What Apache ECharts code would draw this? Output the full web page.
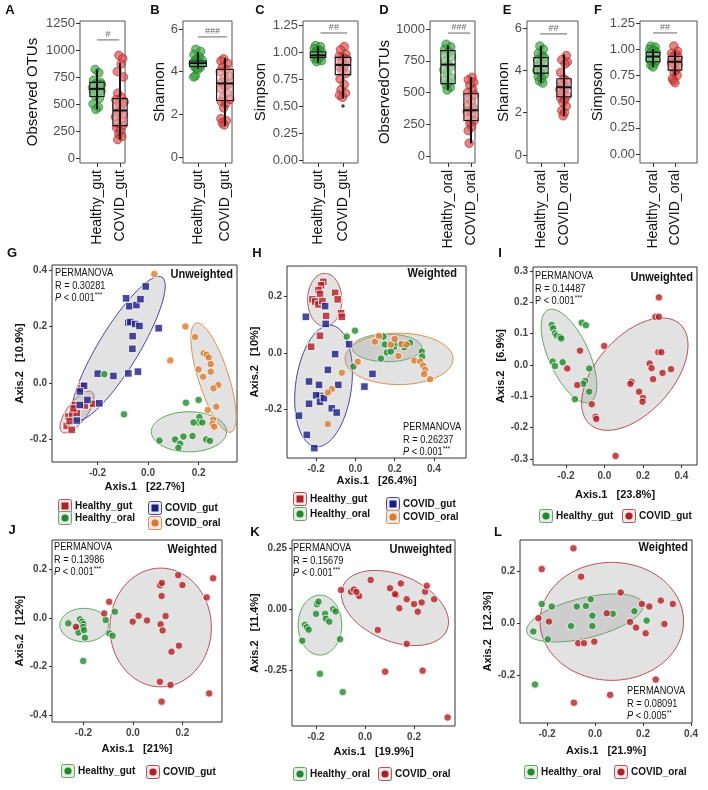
<!DOCTYPE html>
<html><head><meta charset="utf-8"><title>Alpha and beta diversity</title>
<script src="https://cdn.jsdelivr.net/npm/echarts@6.0.0/dist/echarts.min.js"></script>
<style>html,body{margin:0;padding:0;background:#fff;}#chart{width:708px;height:790px;}</style>
</head><body><div id="chart"></div>
<script>
// ================= DATA =================
const catsGut = ['Healthy_gut', 'COVID_gut'];
const catsOral = ['Healthy_oral', 'COVID_oral'];
const catsAll = ['Healthy_gut', 'Healthy_oral', 'COVID_gut', 'COVID_oral'];

// --- alpha diversity: tick labels
const ticksOTU5 = [0, 250, 500, 750, 1000, 1250];
const ticksOTU4 = [0, 250, 500, 750, 1000];
const ticksShannon = [0, 2, 4, 6];
const ticksSimpson = [0, 0.25, 0.5, 0.75, 1, 1.25];

// box stats: [x, min, q1, median, q3, max]
const A_box = [[1, 450, 570, 640, 700, 820], [2, 170, 300, 440, 550, 880]];
const B_box = [[1, 4.15, 4.25, 4.4, 4.5, 4.9], [2, 1.45, 2.65, 3.45, 4.1, 4.65]];
const C_box = [[1, 0.9, 0.95, 0.97, 1.0, 1.05], [2, 0.57, 0.79, 0.88, 0.95, 0.98]];
const D_box = [[1, 520, 570, 720, 830, 870], [2, 100, 280, 360, 490, 620]];
const E_box = [[1, 3.4, 3.87, 4.2, 4.6, 5.15], [2, 1.85, 2.75, 3.2, 3.6, 4.75]];
const F_box = [[1, 0.83, 0.88, 0.93, 0.97, 1.0], [2, 0.75, 0.8, 0.88, 0.93, 0.98]];

// jittered points [x, value]
const A_healthy = [[0.92,820],[1.08,790],[0.85,720],[1.15,700],[0.98,690],[1.2,680],[0.9,670],[1.05,660],[0.8,650],[1.12,640],[0.95,630],[1.18,620],[0.86,610],[1.02,600],[0.9,580],[1.1,550],[0.83,500],[1.06,470],[0.95,450]];
const A_covid = [[1.95,950],[2.12,920],[2.05,870],[1.88,800],[2.15,750],[1.9,600],[2.08,560],[1.82,540],[2.18,520],[1.97,510],[2.1,500],[1.85,480],[2.02,450],[1.92,420],[2.15,400],[1.8,380],[2.06,350],[1.9,320],[2.12,300],[1.85,280],[2.0,250],[1.95,220],[2.08,200],[1.9,170]];
const B_healthy = [[0.92,5.05],[1.1,4.95],[0.85,4.8],[1.05,4.7],[0.95,4.6],[1.15,4.55],[0.88,4.5],[1.02,4.45],[0.82,4.4],[1.12,4.35],[0.97,4.3],[0.86,4.25],[1.08,4.2],[0.93,4.15],[1.0,4.1],[0.9,3.8],[0.84,3.75]];
const B_covid = [[1.95,4.6],[1.85,4.5],[2.1,4.4],[1.9,4.2],[2.05,4.1],[1.82,4.0],[2.15,3.8],[1.98,3.7],[1.88,3.5],[2.12,3.4],[2.0,3.3],[1.84,3.2],[2.08,3.0],[1.93,2.8],[2.18,2.7],[1.86,2.6],[2.03,2.5],[1.95,2.3],[1.85,1.8],[2.05,1.7],[1.9,1.6],[1.97,1.5]];
const C_healthy = [[0.9,1.06],[1.1,1.05],[0.85,1.03],[1.05,1.02],[0.95,1.01],[1.15,1.0],[0.88,0.99],[1.02,0.98],[1.12,0.97],[0.92,0.96],[1.08,0.95],[0.86,0.94],[1.0,0.93],[1.14,0.92],[0.94,0.91]];
const C_covid = [[2.05,1.05],[1.9,1.02],[2.12,0.98],[1.85,0.96],[2.0,0.95],[2.15,0.93],[1.92,0.9],[2.08,0.88],[1.86,0.86],[2.02,0.85],[1.95,0.83],[2.12,0.8],[1.88,0.75],[2.05,0.7],[1.92,0.65],[2.1,0.62],[1.86,0.6],[1.98,0.58]];
const C_outlier = [[2, 0.5]];
const D_healthy = [[0.92,880],[1.12,860],[0.85,840],[1.05,820],[0.95,800],[1.15,780],[0.88,750],[1.02,720],[1.1,700],[0.82,680],[0.97,650],[1.13,620],[0.86,600],[1.05,580],[0.92,560],[1.1,540],[0.96,520]];
const D_covid = [[2.05,620],[1.88,600],[2.12,580],[1.95,560],[2.08,520],[1.85,500],[2.15,480],[1.92,450],[2.02,430],[1.86,400],[2.1,380],[1.97,360],[1.83,350],[2.06,330],[1.9,300],[2.14,280],[1.95,260],[2.03,230],[1.88,200],[1.92,100]];
const E_healthy = [[0.95,5.15],[1.1,5.0],[0.88,4.8],[1.05,4.7],[1.15,4.6],[0.85,4.5],[1.0,4.4],[1.12,4.3],[0.9,4.2],[1.06,4.1],[0.82,4.0],[0.97,3.9],[1.15,3.8],[0.88,3.7],[1.03,3.6],[0.93,3.5],[1.08,3.4]];
const E_covid = [[2.1,4.7],[1.9,4.5],[2.15,4.4],[2.05,4.3],[1.85,3.9],[2.0,3.6],[2.12,3.5],[1.88,3.4],[1.95,3.3],[2.08,3.2],[1.82,3.1],[2.0,3.0],[1.9,2.9],[2.13,2.8],[1.85,2.7],[2.03,2.6],[1.95,2.5],[2.1,2.3],[1.9,2.1],[2.02,2.0],[1.96,1.85]];
const F_healthy = [[0.9,1.03],[1.1,1.02],[0.85,1.0],[1.05,0.99],[0.95,0.98],[1.15,0.97],[0.88,0.96],[1.02,0.95],[1.12,0.94],[0.92,0.93],[1.08,0.92],[0.85,0.91],[1.0,0.9],[1.14,0.89],[0.94,0.88],[1.06,0.86],[0.9,0.85],[1.0,0.83]];
const F_covid = [[1.95,1.03],[2.12,0.98],[1.85,0.96],[2.05,0.95],[1.92,0.93],[2.15,0.92],[1.88,0.9],[2.02,0.89],[2.1,0.88],[1.84,0.87],[1.98,0.86],[2.14,0.85],[1.9,0.83],[2.05,0.8],[1.96,0.78],[2.1,0.75],[1.88,0.72],[1.93,0.7],[2.0,0.68]];

// significance bars [x1, x2, y]
const A_sig = [[1, 1.96, 1093]];
const B_sig = [[1, 2.07, 5.63]];
const C_sig = [[1.1, 2.17, 1.176]];
const D_sig = [[1, 1.96, 968]];
const E_sig = [[0.96, 2.13, 5.72]];
const F_sig = [[1, 2.1, 1.155]];
const sigLabels = ['#', '###', '##', '###', '##', '##'];

// --- PCoA points [Axis.1, Axis.2]
const G_healthyGut = [[-0.289,-0.078],[-0.316,-0.119],[-0.3,-0.11],[-0.282,-0.107],[-0.322,-0.152],[-0.302,-0.166],[-0.217,-0.074],[-0.25,-0.08],[-0.26,-0.01],[-0.265,-0.02],[-0.31,-0.135],[-0.295,-0.09]];
const G_covidGut = [[-0.009,0.342],[-0.087,0.30],[-0.074,0.272],[-0.046,0.276],[-0.03,0.297],[-0.078,0.213],[-0.07,0.216],[-0.051,0.209],[-0.034,0.202],[-0.061,0.166],[-0.062,0.121],[0.042,0.194],[-0.199,0.033],[-0.137,0.025],[-0.078,0.034],[-0.04,0.04],[-0.253,-0.01],[-0.27,-0.03],[-0.27,-0.078],[-0.193,-0.072],[-0.282,-0.133],[-0.24,-0.06]];
const G_healthyOral = [[-0.173,0.031],[-0.095,-0.111],[0.15,-0.07],[0.203,-0.121],[0.2,-0.14],[0.215,-0.14],[0.18,-0.14],[0.14,-0.19],[0.107,-0.2],[0.127,-0.215],[0.12,-0.23],[0.045,-0.204],[0.176,-0.188],[0.23,-0.2],[0.245,-0.205],[0.2,-0.06]];
const G_covidOral = [[0.025,0.386],[0.148,0.2],[0.186,0.163],[0.22,0.105],[0.232,0.1],[0.24,0.09],[0.248,0.067],[0.2,0.048],[0.248,0.04],[0.218,0.022],[0.278,-0.007],[0.259,-0.019],[0.088,0.08],[0.27,-0.084],[0.236,-0.096],[0.257,-0.13],[0.255,-0.145],[0.262,-0.155]];

const H_healthyGut = [[-0.163,0.252],[-0.175,0.24],[-0.188,0.223],[-0.18,0.209],[-0.219,0.19],[-0.205,0.182],[-0.188,0.172],[-0.168,0.184],[-0.103,0.213],[-0.09,0.19],[-0.073,0.141],[-0.069,0.128],[-0.149,0.131],[-0.18,0.061],[-0.225,0.022]];
const H_covidGut = [[-0.154,0.166],[-0.252,0.128],[-0.151,0.103],[-0.032,0.031],[-0.103,-0.004],[-0.14,-0.06],[-0.236,-0.101],[-0.185,-0.113],[-0.087,-0.113],[0.087,-0.074],[0.046,-0.119],[-0.18,-0.152],[-0.2,-0.15],[-0.236,-0.18],[-0.18,-0.173],[-0.12,-0.196],[-0.095,-0.211],[-0.287,-0.222],[-0.247,-0.29],[-0.209,-0.337],[-0.16,-0.16]];
const H_healthyOral = [[-0.002,0.079],[-0.044,0.058],[0.143,0.058],[0.15,0.03],[0.198,0.022],[0.21,0.035],[0.23,0.03],[0.25,0.02],[0.16,0.002],[0.18,0.005],[0.13,-0.02],[0.278,0.036],[0.338,0.005],[0.34,-0.013],[-0.01,-0.048]];
const H_covidOral = [[0.012,-0.031],[0.1,0.04],[0.236,0.032],[0.26,0.03],[0.219,-0.011],[0.3,-0.027],[0.33,-0.03],[0.345,-0.045],[0.355,-0.06],[0.35,-0.075],[0.38,-0.093],[-0.069,-0.07],[-0.12,-0.128],[-0.14,-0.14],[-0.14,-0.252],[0.18,0.03],[0.2,0.05],[0.12,0.06]];

const I_healthyGut = [[-0.274,0.128],[-0.266,0.117],[-0.257,0.101],[-0.248,0.094],[-0.231,0.09],[-0.224,0.085],[-0.269,0.011],[-0.257,-0.003],[-0.217,0.009],[-0.118,0.135],[-0.096,0.127],[-0.079,-0.011],[-0.1,-0.051],[-0.11,-0.06],[-0.079,-0.085],[-0.153,-0.109]];
const I_covidGut = [[-0.193,-0.011],[-0.127,0.046],[-0.141,-0.064],[-0.001,0.061],[0.283,0.216],[0.265,0.154],[0.283,0.154],[0.28,0.041],[0.296,0.041],[0.235,0.005],[0.245,-0.01],[0.253,-0.045],[0.302,-0.025],[0.346,-0.013],[0.141,-0.053],[0.135,-0.06],[0.18,-0.085],[0.2,-0.105],[-0.066,-0.125],[-0.046,-0.165],[-0.042,-0.172],[0.198,-0.117],[0.058,-0.29]];

const J_healthyGut = [[-0.261,-0.022],[-0.214,-0.005],[-0.205,-0.015],[-0.2,-0.025],[-0.225,-0.044],[-0.22,-0.06],[-0.201,-0.037],[-0.198,-0.05],[-0.194,-0.081],[-0.201,-0.177],[-0.11,-0.008],[-0.073,0.026],[-0.096,-0.063],[-0.082,-0.073]];
const J_covidGut = [[-0.23,-0.036],[-0.116,0.019],[-0.096,0.067],[-0.001,-0.015],[0.023,0.009],[0.057,-0.01],[0.112,-0.026],[0.12,-0.051],[0.132,0.008],[0.116,0.091],[0.298,0.085],[0.156,-0.139],[0.186,-0.114],[0.109,-0.263],[0.152,-0.276],[0.116,-0.345],[0.308,-0.311],[0.183,0.177],[0.2,0.136],[0.11,0.135],[0.117,0.145],[0.324,0.164]];

const K_healthyOral = [[-0.196,0.019],[-0.19,0.03],[-0.2,-0.02],[-0.163,-0.02],[-0.16,-0.04],[-0.13,-0.001],[-0.12,-0.01],[-0.146,-0.052],[-0.245,-0.065],[-0.237,-0.075],[-0.23,-0.085],[-0.256,-0.13],[-0.102,-0.124],[-0.184,-0.266],[-0.091,-0.341]];
const K_covidOral = [[0.052,-0.086],[0.17,-0.143],[0.082,-0.257],[0.235,-0.253],[0.337,-0.445],[-0.024,0.053],[-0.057,0.071],[-0.045,0.08],[-0.098,0.078],[0.127,0.057],[0.14,0.003],[0.17,0.04],[0.2,0.02],[0.215,-0.011],[0.231,0.027],[0.282,0.04],[0.245,0.071],[0.252,0.095],[0.023,0.119],[0.102,0.085],[0.146,0.105],[0.122,0.061],[-0.035,0.07]];

const L_healthyOral = [[-0.222,0.073],[-0.18,0.063],[-0.257,-0.033],[-0.197,-0.063],[-0.1,-0.012],[-0.076,0.063],[-0.038,0.065],[-0.018,0.091],[-0.011,0.028],[-0.011,-0.012],[0.074,0.035],[0.164,0.045],[0.215,0.009],[-0.25,-0.237]];
const L_covidOral = [[-0.236,0.018],[-0.192,0.005],[-0.07,-0.078],[-0.046,-0.078],[-0.003,-0.072],[0.049,0.037],[0.107,0.117],[0.146,0.004],[0.171,-0.018],[0.195,0.073],[0.226,0.063],[0.274,0.086],[0.324,0.073],[0.289,-0.004],[0.211,-0.04],[0.253,-0.218],[0.063,-0.277],[-0.088,-0.307],[-0.09,0.287],[-0.222,0.207],[-0.058,0.178]];

// confidence ellipses [cx, cy, ux, uy, vx, vy] (centre + two conjugate semi-axes)
const G_ellHealthyGut = [-0.281, -0.103, 0.059, 0.071, 0.032, -0.021];
const G_ellCovidGut = [-0.117, 0.122, 0.172, 0.253, 0.068, -0.037];
const G_ellHealthyOral = [0.162, -0.173, 0.149, 0, 0, 0.071];
const G_ellCovidOral = [0.259, 0.019, -0.069, 0.193, 0.057, 0.016];
const H_ellHealthyGut = [-0.156, 0.188, 0.087, 0, 0, 0.094];
const H_ellCovidGut = [-0.162, -0.117, 0.041, 0.215, 0.141, -0.013];
const H_ellHealthyOral = [0.161, 0.018, 0.177, 0, 0, 0.049];
const H_ellCovidOral = [0.222, -0.021, 0.275, 0, 0, 0.091];
const I_ellHealthy = [-0.184, 0.029, 0.109, -0.147, 0.095, 0.027];
const I_ellCovid = [0.158, -0.029, 0.234, 0.16, 0.147, -0.081];
const J_ellHealthy = [-0.197, -0.029, 0.098, 0, 0, 0.069];
const J_ellCovid = [0.112, -0.039, 0.205, 0, 0, 0.245];
const K_ellHealthy = [-0.184, -0.066, 0.089, 0, 0, 0.123];
const K_ellCovid = [0.122, 0.004, 0.212, -0.09, -0.053, -0.125];
const L_ellHealthy = [-0.042, 0.019, 0.242, 0.054, 0.02, -0.075];
const L_ellCovid = [0.07, 0.006, 0.299, 0, 0, 0.227];

// axis labels and statistics text
const pcoaAxis1 = ['Axis.1   [22.7%]', 'Axis.1   [26.4%]', 'Axis.1   [23.8%]', 'Axis.1   [21%]', 'Axis.1   [19.9%]', 'Axis.1   [21.9%]'];
const pcoaAxis2 = ['Axis.2   [10.9%]', 'Axis.2   [10%]', 'Axis.2   [6.9%]', 'Axis.2   [12%]', 'Axis.2   [11.4%]', 'Axis.2   [12.3%]'];
const pcoaMetric = ['Unweighted', 'Weighted', 'Unweighted', 'Weighted', 'Unweighted', 'Weighted'];
const permanovaR = ['0.30281', '0.26237', '0.14487', '0.13986', '0.15679', '0.08091'];
const permanovaP = ['0.001', '0.001', '0.001', '0.001', '0.001', '0.005'];
const permanovaStars = ['***', '***', '***', '***', '***', '**'];

// ================= STYLE / LAYOUT =================
const FF = '"Liberation Sans", Arial, sans-serif';
const BOX_GREEN = 'rgba(52,160,56,0.82)', BOX_GREEN_E = '#1d7a22';
const BOX_RED = 'rgba(218,62,62,0.8)', BOX_RED_E = '#a42626';
const C_HG = '#b01f24', C_CG = '#1c1c86', C_HO = '#1f8a2a', C_CO = '#d97a2e';
const E_HG = '#b8505a', E_CG = '#4646a0', E_HO = '#5da85d', E_CO = '#d9904e';

const option = {
  animation: false, backgroundColor: '#fff',
  textStyle: { fontFamily: FF },
  grid: [], xAxis: [], yAxis: [], series: [], graphic: { elements: [] }
};

const boxLayout = [
  { grid: [80, 21, 45, 142], x: [0.261, 2.217], y: [-46, 1268], gap: 40 },
  { grid: [183, 21, 49, 142], x: [0.444, 2.26], y: [-0.281, 6.375], gap: 14 },
  { grid: [303, 21, 55, 142], x: [0.4, 2.6], y: [-0.028, 1.287], gap: 29 },
  { grid: [430, 21, 45, 142], x: [0.217, 2.174], y: [-55, 1063], gap: 30 },
  { grid: [527, 21, 51, 142], x: [0.391, 2.609], y: [-0.378, 6.33], gap: 14 },
  { grid: [640, 21, 57, 142], x: [0.409, 3.0], y: [-0.086, 1.269], gap: 24 }
];
const boxPanels = [
  { cats: catsGut, name: 'Observed OTUs', ticks: ticksOTU5, dec: 0, H: A_healthy, C: A_covid, stats: A_box, sig: A_sig },
  { cats: catsGut, name: 'Shannon', ticks: ticksShannon, dec: 0, H: B_healthy, C: B_covid, stats: B_box, sig: B_sig },
  { cats: catsGut, name: 'Simpson', ticks: ticksSimpson, dec: 2, H: C_healthy, C: C_covid, stats: C_box, sig: C_sig, out: C_outlier },
  { cats: catsOral, name: 'ObservedOTUs', ticks: ticksOTU4, dec: 0, H: D_healthy, C: D_covid, stats: D_box, sig: D_sig },
  { cats: catsOral, name: 'Shannon', ticks: ticksShannon, dec: 0, H: E_healthy, C: E_covid, stats: E_box, sig: E_sig },
  { cats: catsOral, name: 'Simpson', ticks: ticksSimpson, dec: 2, H: F_healthy, C: F_covid, stats: F_box, sig: F_sig }
];

boxPanels.forEach((p, i) => {
  const L = boxLayout[i];
  option.grid.push({ left: L.grid[0], top: L.grid[1], width: L.grid[2], height: L.grid[3], show: true, borderColor: '#555', borderWidth: 1, backgroundColor: '#fff' });
  option.xAxis.push({
    type: 'value', gridIndex: i, min: L.x[0], max: L.x[1],
    axisLine: { show: false, onZero: false }, splitLine: { show: false },
    axisTick: { show: true, customValues: [1, 2], length: 4, lineStyle: { color: '#333' } },
    axisLabel: { customValues: [1, 2], formatter: v => p.cats[Math.round(v) - 1], rotate: 90, fontSize: 14, color: '#111', margin: 7, fontFamily: FF }
  });
  option.yAxis.push({
    type: 'value', gridIndex: i, min: L.y[0], max: L.y[1],
    axisLine: { show: false, onZero: false }, splitLine: { show: false },
    axisTick: { show: true, customValues: p.ticks, length: 4, lineStyle: { color: '#333' } },
    axisLabel: { customValues: p.ticks, formatter: v => v.toFixed(p.dec), fontSize: 13, color: '#4d4d4d', margin: 5, fontFamily: FF },
    name: p.name, nameLocation: 'middle', nameGap: L.gap, nameTextStyle: { fontSize: 15, color: '#111', fontFamily: FF }
  });
  option.series.push({ type: 'scatter', xAxisIndex: i, yAxisIndex: i, data: p.H, symbolSize: 8.5, z: 2, itemStyle: { color: BOX_GREEN, borderColor: BOX_GREEN_E, borderWidth: 0.8 } });
  option.series.push({ type: 'scatter', xAxisIndex: i, yAxisIndex: i, data: p.C, symbolSize: 8.5, z: 2, itemStyle: { color: BOX_RED, borderColor: BOX_RED_E, borderWidth: 0.8 } });
  if (p.out) option.series.push({ type: 'scatter', xAxisIndex: i, yAxisIndex: i, data: p.out, symbolSize: 3.5, z: 4, itemStyle: { color: '#111' } });
  option.series.push({
    type: 'custom', xAxisIndex: i, yAxisIndex: i, data: p.stats, z: 3,
    encode: { x: 0, y: [1, 2, 3, 4, 5] },
    renderItem: (params, api) => {
      const x = api.value(0);
      const lo = api.coord([x, api.value(1)]), q1 = api.coord([x, api.value(2)]), md = api.coord([x, api.value(3)]);
      const q3 = api.coord([x, api.value(4)]), hi = api.coord([x, api.value(5)]);
      const w = api.size([0.62, 0])[0];
      return { type: 'group', children: [
        { type: 'rect', shape: { x: q3[0] - w / 2, y: q3[1], width: w, height: q1[1] - q3[1] }, style: { fill: 'rgba(255,255,255,0.35)', stroke: '#111', lineWidth: 1.1 } },
        { type: 'line', shape: { x1: lo[0], y1: lo[1], x2: hi[0], y2: hi[1] }, style: { stroke: '#111', lineWidth: 2 } },
        { type: 'line', shape: { x1: md[0] - w / 2, y1: md[1], x2: md[0] + w / 2, y2: md[1] }, style: { stroke: '#111', lineWidth: 2 } }
      ] };
    }
  });
  option.series.push({
    type: 'custom', xAxisIndex: i, yAxisIndex: i, data: p.sig, z: 3,
    encode: { x: [0, 1], y: 2 },
    renderItem: (params, api) => {
      const a = api.coord([api.value(0), api.value(2)]), b = api.coord([api.value(1), api.value(2)]);
      return { type: 'group', children: [
        { type: 'line', shape: { x1: a[0], y1: a[1], x2: b[0], y2: b[1] }, style: { stroke: '#666', lineWidth: 1 } },
        { type: 'text', x: (a[0] + b[0]) / 2, y: a[1] - 1, style: { text: sigLabels[i], fontSize: 9, fontFamily: FF, fill: '#666', align: 'center', verticalAlign: 'bottom' } }
      ] };
    }
  });
});

// ---------- PCoA panels ----------
const pcoaLayout = [
  { grid: [52, 265, 185, 197], x: [-0.380, 0.352], y: [-0.280, 0.418], xg: 19, yg: 19 },
  { grid: [287, 266, 179, 192], x: [-0.348, 0.563], y: [-0.372, 0.308], xg: 17, yg: 22 },
  { grid: [533, 267, 164, 198], x: [-0.371, 0.481], y: [-0.319, 0.313], xg: 24, yg: 23 },
  { grid: [52, 540, 170, 182], x: [-0.327, 0.360], y: [-0.429, 0.322], xg: 21, yg: 22 },
  { grid: [292, 540, 163, 186], x: [-0.298, 0.367], y: [-0.480, 0.283], xg: 20, yg: 29 },
  { grid: [520, 540, 172, 183], x: [-0.3125, 0.404], y: [-0.385, 0.319], xg: 22, yg: 25 }
];
const pcoaPanels = [
  { xt: [-0.2, 0, 0.2], yt: [-0.2, 0, 0.2, 0.4], dec: 1, groups: [
    { data: G_healthyGut, color: C_HG, sym: 'rect', ell: G_ellHealthyGut, ec: E_HG },
    { data: G_covidGut, color: C_CG, sym: 'rect', ell: G_ellCovidGut, ec: E_CG },
    { data: G_healthyOral, color: C_HO, sym: 'circle', ell: G_ellHealthyOral, ec: E_HO },
    { data: G_covidOral, color: C_CO, sym: 'circle', ell: G_ellCovidOral, ec: E_CO } ] },
  { xt: [-0.2, 0, 0.2, 0.4], yt: [-0.2, 0, 0.2], dec: 1, groups: [
    { data: H_healthyGut, color: C_HG, sym: 'rect', ell: H_ellHealthyGut, ec: E_HG },
    { data: H_covidGut, color: C_CG, sym: 'rect', ell: H_ellCovidGut, ec: E_CG },
    { data: H_healthyOral, color: C_HO, sym: 'circle', ell: H_ellHealthyOral, ec: E_HO },
    { data: H_covidOral, color: C_CO, sym: 'circle', ell: H_ellCovidOral, ec: E_CO } ] },
  { xt: [-0.2, 0, 0.2, 0.4], yt: [-0.3, -0.2, -0.1, 0, 0.1, 0.2, 0.3], dec: 1, groups: [
    { data: I_healthyGut, color: C_HO, sym: 'circle', ell: I_ellHealthy, ec: E_HO },
    { data: I_covidGut, color: C_HG, sym: 'circle', ell: I_ellCovid, ec: E_HG } ] },
  { xt: [-0.2, 0, 0.2], yt: [-0.4, -0.2, 0, 0.2], dec: 1, groups: [
    { data: J_healthyGut, color: C_HO, sym: 'circle', ell: J_ellHealthy, ec: E_HO },
    { data: J_covidGut, color: C_HG, sym: 'circle', ell: J_ellCovid, ec: E_HG } ] },
  { xt: [-0.2, 0, 0.2], yt: [-0.25, 0, 0.25], dec: 2, groups: [
    { data: K_healthyOral, color: C_HO, sym: 'circle', ell: K_ellHealthy, ec: E_HO },
    { data: K_covidOral, color: C_HG, sym: 'circle', ell: K_ellCovid, ec: E_HG } ] },
  { xt: [-0.2, 0, 0.2, 0.4], yt: [-0.2, 0, 0.2], dec: 1, groups: [
    { data: L_healthyOral, color: C_HO, sym: 'circle', ell: L_ellHealthy, ec: E_HO },
    { data: L_covidOral, color: C_HG, sym: 'circle', ell: L_ellCovid, ec: E_HG } ] }
];

pcoaPanels.forEach((p, j) => {
  const i = 6 + j, L = pcoaLayout[j];
  option.grid.push({ left: L.grid[0], top: L.grid[1], width: L.grid[2], height: L.grid[3], show: true, borderColor: '#333', borderWidth: 1, backgroundColor: '#fff' });
  option.xAxis.push({
    type: 'value', gridIndex: i, min: L.x[0], max: L.x[1],
    axisLine: { show: false, onZero: false }, splitLine: { show: false },
    axisTick: { show: true, customValues: p.xt, length: 3, lineStyle: { color: '#333' } },
    axisLabel: { customValues: p.xt, formatter: v => v.toFixed(1), fontSize: 10, fontWeight: 'bold', color: '#444', margin: 6, fontFamily: FF },
    name: pcoaAxis1[j], nameLocation: 'middle', nameGap: L.xg, nameTextStyle: { fontSize: 11, fontWeight: 'bold', color: '#111', fontFamily: FF }
  });
  option.yAxis.push({
    type: 'value', gridIndex: i, min: L.y[0], max: L.y[1],
    axisLine: { show: false, onZero: false }, splitLine: { show: false },
    axisTick: { show: true, customValues: p.yt, length: 3, lineStyle: { color: '#333' } },
    axisLabel: { customValues: p.yt, formatter: v => v.toFixed(p.dec), fontSize: 10, fontWeight: 'bold', color: '#444', margin: 5, fontFamily: FF },
    name: pcoaAxis2[j], nameLocation: 'middle', nameGap: L.yg, nameTextStyle: { fontSize: 11, fontWeight: 'bold', color: '#111', fontFamily: FF }
  });
  p.groups.forEach(g => {
    option.series.push({
      type: 'custom', xAxisIndex: i, yAxisIndex: i, data: [g.ell], z: 1, clip: true,
      encode: { x: 0, y: 1 },
      renderItem: (params, api) => {
        const cx = api.value(0), cy = api.value(1), ux = api.value(2), uy = api.value(3), vx = api.value(4), vy = api.value(5);
        const pts = [];
        for (let k = 0; k < 90; k++) {
          const t = k / 90 * Math.PI * 2;
          pts.push(api.coord([cx + ux * Math.cos(t) + vx * Math.sin(t), cy + uy * Math.cos(t) + vy * Math.sin(t)]));
        }
        return { type: 'polygon', shape: { points: pts }, style: { fill: 'rgba(150,150,150,0.28)', stroke: g.ec, lineWidth: 1 } };
      }
    });
  });
  p.groups.forEach(g => {
    option.series.push({
      type: 'scatter', xAxisIndex: i, yAxisIndex: i, data: g.data, z: 3,
      symbol: g.sym, symbolSize: 7.5,
      itemStyle: { color: g.color, borderColor: '#fff', borderWidth: 1 }
    });
  });
});

// ---------- text annotations ----------
const G = option.graphic.elements;
function txt(x, y, text, st, extra) {
  G.push(Object.assign({ type: 'text', x: x, y: y, z: 50, style: Object.assign({ text: text, fontFamily: FF, fill: '#111' }, st) }, extra || {}));
}
[['A', 10, 10], ['B', 155, 10], ['C', 260, 10], ['D', 384, 10], ['E', 507, 10], ['F', 598, 10],
 ['G', 12, 253], ['H', 257, 253], ['I', 500, 253], ['J', 12, 530], ['K', 255, 532], ['L', 498, 532]]
  .forEach(a => txt(a[1], a[2], a[0], { fontSize: 13, fontWeight: 'bold', align: 'center', verticalAlign: 'middle' }));

const metricPos = [[233, 275], [457, 274], [693, 278], [217, 550], [452, 550], [688, 548]];
metricPos.forEach((m, j) => txt(m[0], m[1], pcoaMetric[j], { fontSize: 12, fontWeight: 'bold', align: 'right', verticalAlign: 'middle' }, { scaleX: 0.92 }));

const permPos = [[55, 267, true], [403, 421, true], [535, 270, false], [54, 541, true], [293, 542, true], [627, 685, true]];
permPos.forEach((m, j) => {
  const pTok = m[2] ? '{i|P}' : 'P';
  txt(m[0], m[1], 'PERMANOVA\nR = ' + permanovaR[j] + '\n' + pTok + ' < ' + permanovaP[j] + '{s|' + permanovaStars[j] + '}', {
    fontSize: 10, lineHeight: 12.5, align: 'left', verticalAlign: 'top',
    rich: { i: { fontSize: 10, fontStyle: 'italic', fontFamily: FF, fill: '#111', lineHeight: 12.5 },
            s: { fontSize: 7, fontFamily: FF, fill: '#111', verticalAlign: 'top', lineHeight: 12.5, padding: [0, 0, 4, 0] } }
  }, { scaleX: 0.92 });
});

// ---------- legends ----------
function legendItem(cx, cy, label, symColor, edgeColor, sym) {
  G.push({ type: 'rect', z: 50, shape: { x: cx - 6.5, y: cy - 6.5, width: 13, height: 13, r: 2 }, style: { fill: '#e9e9e9', stroke: edgeColor, lineWidth: 1 } });
  if (sym === 'rect') G.push({ type: 'rect', z: 51, shape: { x: cx - 3.5, y: cy - 3.5, width: 7, height: 7 }, style: { fill: symColor } });
  else G.push({ type: 'circle', z: 51, shape: { cx: cx, cy: cy, r: 3.6 }, style: { fill: symColor } });
  txt(cx + 10, cy, label, { fontSize: 10, fontWeight: 'bold', align: 'left', verticalAlign: 'middle' });
}
legendItem(65, 506, catsAll[0], C_HG, E_HG, 'rect');
legendItem(65, 518, catsAll[1], C_HO, E_HO, 'circle');
legendItem(155, 508, catsAll[2], C_CG, E_CG, 'rect');
legendItem(155, 523, catsAll[3], C_CO, E_CO, 'circle');
legendItem(300, 499, catsAll[0], C_HG, E_HG, 'rect');
legendItem(300, 514, catsAll[1], C_HO, E_HO, 'circle');
legendItem(393, 504, catsAll[2], C_CG, E_CG, 'rect');
legendItem(393, 517, catsAll[3], C_CO, E_CO, 'circle');
legendItem(546, 516, catsGut[0], C_HO, E_HO, 'circle');
legendItem(629, 516, catsGut[1], C_HG, E_HG, 'circle');
legendItem(68, 771, catsGut[0], C_HO, E_HO, 'circle');
legendItem(153, 772, catsGut[1], C_HG, E_HG, 'circle');
legendItem(300, 774, catsOral[0], C_HO, E_HO, 'circle');
legendItem(385, 774, catsOral[1], C_HG, E_HG, 'circle');
legendItem(531, 772, catsOral[0], C_HO, E_HO, 'circle');
legendItem(621, 772, catsOral[1], C_HG, E_HG, 'circle');

const chart = echarts.init(document.getElementById('chart'), null, { renderer: 'canvas' });
chart.setOption(option);
</script></body></html>
